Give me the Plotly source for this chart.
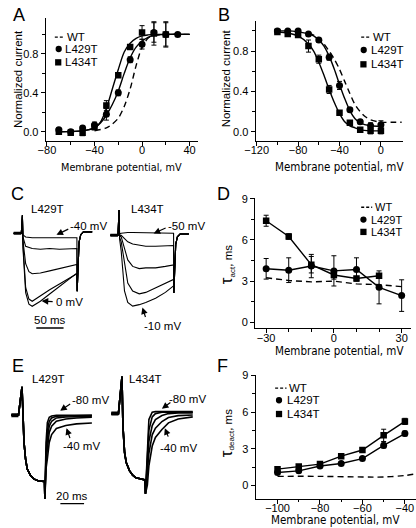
import plotly.graph_objects as go

W, H = 416, 528
TICKFONT = "Liberation Sans, Arial, sans-serif"
NARROW = "Liberation Sans Narrow, Arial Narrow, DejaVu Sans Condensed, Liberation Sans, Arial, sans-serif"

# ---------------- Panel A: activation ----------------
A_V = [-70, -60, -50, -40, -30, -20, -10, 0, 10, 20, 30]
A_L429T = [0.02, 0.00, 0.04, 0.07, 0.18, 0.40, 0.74, 0.90, 1.02, 1.00, 1.00]
A_L429T_ERR = [0.02, 0.02, 0.02, 0.03, 0.06, 0.03, 0.03, 0.05, 0.10, 0.13, 0.02]
A_V434 = [-70, -60, -50, -40, -30, -20, -10, 0, 10, 20]
A_L434T = [0.00, -0.01, -0.01, 0.05, 0.27, 0.58, 0.87, 1.02, 1.01, 1.00]
A_L434T_ERR = [0.02, 0.02, 0.03, 0.03, 0.05, 0.02, 0.02, 0.07, 0.12, 0.12]
A_FIT_V = [-70, -50, -40, -35, -30, -25, -20, -15, -10, -5, 0, 5, 10, 20, 40]
A_FIT_L429T = [0.00, 0.01, 0.04, 0.09, 0.17, 0.28, 0.42, 0.60, 0.76, 0.87, 0.93, 0.97, 0.99, 1.00, 1.00]
A_FIT_L434T = [0.00, 0.01, 0.04, 0.10, 0.24, 0.44, 0.64, 0.82, 0.91, 0.96, 0.985, 0.995, 1.00, 1.00, 1.00]
A_WT_V = [-40, -30, -25, -20, -15, -10, -5, 0, 5, 10, 20, 40]
A_WT = [0.01, 0.04, 0.08, 0.14, 0.26, 0.44, 0.68, 0.87, 0.96, 0.99, 1.00, 1.00]

# ---------------- Panel B: inactivation ----------------
B_V = [-100, -90, -80, -70, -60, -50, -40, -30, -20, -10, 0]
B_L429T = [1.00, 1.00, 1.00, 0.97, 0.91, 0.74, 0.46, 0.22, 0.10, 0.06, 0.07]
B_L429T_ERR = [0.01, 0.01, 0.01, 0.01, 0.02, 0.03, 0.04, 0.02, 0.02, 0.03, 0.04]
B_L434T = [0.99, 0.97, 0.96, 0.85, 0.72, 0.42, 0.19, 0.09, 0.02, 0.01, 0.01]
B_L434T_ERR = [0.01, 0.02, 0.02, 0.06, 0.04, 0.04, 0.02, 0.02, 0.02, 0.03, 0.03]
B_FIT_V = [-100, -90, -80, -70, -65, -60, -55, -50, -45, -40, -35, -30, -25, -20, -10, 0]
B_FIT_L429T = [1.00, 1.00, 0.99, 0.97, 0.95, 0.91, 0.85, 0.75, 0.62, 0.47, 0.33, 0.21, 0.13, 0.09, 0.06, 0.055]
B_FIT_L434T = [0.99, 0.98, 0.95, 0.87, 0.80, 0.69, 0.56, 0.42, 0.29, 0.18, 0.10, 0.06, 0.04, 0.02, 0.01, 0.01]
B_WT_V = [-70, -60, -50, -45, -40, -35, -30, -25, -20, -15, -10, 0, 10, 20]
B_WT = [0.98, 0.93, 0.80, 0.72, 0.62, 0.50, 0.38, 0.27, 0.20, 0.15, 0.12, 0.095, 0.095, 0.095]

# ---------------- Panel C: current traces (ms, normalized current) ----------------
C_HOLD_T = [-16, -2]
C_SPIKE_T = [0]
C_SPIKE_I = [0.25]
C_T = [1, 6, 12, 18, 33, 50, 68, 86, 100]
C429 = {
    "-40": [-0.02, -0.05, -0.06, -0.06, -0.06, -0.06, -0.06, -0.06, -0.06],
    "-30": [-0.05, -0.18, -0.20, -0.21, -0.22, -0.21, -0.22, -0.21, -0.21],
    "-20": [-0.10, -0.42, -0.53, -0.56, -0.55, -0.52, -0.49, -0.46, -0.43],
    "-10": [-0.15, -0.75, -0.91, -0.94, -0.86, -0.78, -0.70, -0.62, -0.56],
    "0": [-0.20, -0.82, -0.98, -1.01, -0.94, -0.84, -0.74, -0.64, -0.55],
}
C434_T = [1, 4, 10, 16, 25, 37, 49, 67, 85, 100]
C434 = {
    "-50": [0.02, 0.03, 0.04, 0.04, 0.04, 0.04, 0.03, 0.04, 0.04, 0.03],
    "-40": [0.00, 0.00, -0.05, -0.09, -0.12, -0.14, -0.15, -0.15, -0.15, -0.14],
    "-30": [-0.01, -0.02, -0.18, -0.34, -0.43, -0.46, -0.45, -0.45, -0.43, -0.41],
    "-20": [-0.03, -0.09, -0.41, -0.66, -0.77, -0.81, -0.79, -0.73, -0.67, -0.61],
    "-10": [-0.05, -0.22, -0.77, -0.93, -0.98, -0.96, -0.93, -0.87, -0.79, -0.70],
}
C_TAIL_DT = [0.5, 2, 4, 7, 12, 20, 28]
C_TAIL_I = [-0.80, -0.35, -0.12, -0.02, 0.02, 0.02, 0.02]
C_SCALE_MS = 50

# ---------------- Panel D: activation time constants ----------------
D_V = [-30, -20, -10, 0, 10, 20, 30]
D_L429T = [3.9, 3.8, 4.1, 3.75, 3.85, 2.55, 1.95]
D_L429T_ERR = [0.75, 0.9, 0.85, 1.1, 0.85, 1.2, 1.15]
D_V434 = [-30, -20, -10, 0, 10, 20]
D_L434T = [7.4, 6.25, 4.2, 3.45, 3.2, 3.4]
D_L434T_ERR = [0.4, 0.2, 0.6, 0.3, 0.15, 0.15]
D_WT = [3.25, 3.05, 2.95, 3.0, 2.8, 2.75, 2.6]

# ---------------- Panel E: tail currents ----------------
E_HOLD_T = [-9, -3]
E429_ACT_T = [0, 0.55, 1.7, 3.0, 4.4, 7.2, 9.9, 14, 19]
E429_ACT_I = [0.43, 0.08, -0.41, -0.66, -0.81, -0.91, -0.96, -0.99, -1.0]
E429_TAIL_T = [19.3, 20.3, 21.4, 23, 25, 29, 37, 46, 59]
E429_TAIL = {
    "-80": [-1.26, -0.41, -0.11, -0.03, -0.01, 0.0, 0.0, 0.0, 0.0],
    "-70": [-1.26, -0.55, -0.24, -0.09, -0.04, -0.015, -0.01, -0.005, 0.0],
    "-60": [-1.26, -0.62, -0.36, -0.165, -0.09, -0.04, -0.025, -0.02, -0.015],
    "-50": [-1.26, -0.70, -0.51, -0.26, -0.165, -0.09, -0.055, -0.04, -0.03],
    "-40": [-1.26, -0.80, -0.66, -0.41, -0.29, -0.20, -0.155, -0.13, -0.115],
}
E434_ACT_T = [0, 0.8, 2.2, 3.6, 6.3, 9.0, 11.8, 17.3, 19.5]
E434_ACT_I = [0.56, -0.19, -0.59, -0.74, -0.86, -0.93, -0.97, -0.99, -1.0]
E434_TAIL_T = [19.8, 21.4, 22.7, 25.5, 28.2, 33.7, 39.2, 47.4, 59.7]
E434_TAIL = {
    "-80": [-1.21, -0.44, -0.09, 0.02, 0.03, 0.03, 0.03, 0.03, 0.03],
    "-70": [-1.21, -0.60, -0.25, -0.05, 0.00, 0.02, 0.02, 0.02, 0.02],
    "-60": [-1.21, -0.75, -0.42, -0.18, -0.09, -0.03, 0.00, 0.01, 0.01],
    "-50": [-1.21, -0.90, -0.60, -0.32, -0.22, -0.12, -0.06, -0.03, -0.02],
    "-40": [-1.21, -1.08, -0.79, -0.49, -0.36, -0.24, -0.14, -0.08, -0.05],
}
E_SCALE_MS = 20

# ---------------- Panel F: deactivation time constants ----------------
F_V = [-100, -90, -80, -70, -60, -50, -40]
F_L429T = [1.07, 1.2, 1.6, 1.8, 2.2, 3.28, 4.25]
F_L429T_ERR = [0.1, 0.1, 0.1, 0.1, 0.1, 0.2, 0.2]
F_L434T = [1.34, 1.56, 1.75, 2.4, 2.9, 4.1, 5.24]
F_L434T_ERR = [0.1, 0.1, 0.1, 0.1, 0.15, 0.5, 0.25]
F_WT_V = [-100, -80, -60, -50, -40, -35]
F_WT = [0.75, 0.75, 0.7, 0.7, 0.82, 0.95]

# =================================================================
def fx(x):
    return x / W


def fy(y):
    return 1 - y / H


def dom_x(a, b):
    return [a / W, b / W]


def dom_y(top, bottom):
    return [1 - bottom / H, 1 - top / H]


fig = go.Figure()
BLK = "black"
DASH = "6px,4px"


def line(ax, x, y, dash=None, width=1.4):
    xa, ya = ax
    fig.add_trace(go.Scatter(x=x, y=y, mode="lines", xaxis=xa, yaxis=ya,
                             line=dict(color=BLK, width=width, dash=dash, shape="spline", smoothing=0.8),
                             hoverinfo="skip"))


def pts(ax, x, y, err, symbol, connect=False):
    xa, ya = ax
    fig.add_trace(go.Scatter(x=x, y=y, mode="lines+markers" if connect else "markers",
                             xaxis=xa, yaxis=ya,
                             line=dict(color=BLK, width=1.4),
                             marker=dict(symbol=symbol, size=7 if symbol == "circle" else 6.5, color=BLK),
                             error_y=dict(type="data", array=err, color=BLK, thickness=1, width=2.5),
                             hoverinfo="skip"))


def raw(ax, x, y, width=1.1):
    xa, ya = ax
    fig.add_trace(go.Scatter(x=x, y=y, mode="lines", xaxis=xa, yaxis=ya,
                             line=dict(color=BLK, width=width), hoverinfo="skip"))


# Panel A
AX_A = ("x", "y")
line(AX_A, A_WT_V, A_WT, dash=DASH)
line(AX_A, A_FIT_V, A_FIT_L429T)
line(AX_A, A_FIT_V, A_FIT_L434T)
pts(AX_A, A_V, A_L429T, A_L429T_ERR, "circle")
pts(AX_A, A_V434, A_L434T, A_L434T_ERR, "square")

# Panel B
AX_B = ("x2", "y2")
line(AX_B, B_WT_V, B_WT, dash=DASH)
line(AX_B, B_FIT_V, B_FIT_L429T)
line(AX_B, B_FIT_V, B_FIT_L434T)
pts(AX_B, B_V, B_L429T, B_L429T_ERR, "circle")
pts(AX_B, B_V, B_L434T, B_L434T_ERR, "square")

# Panel C traces
AX_C1 = ("x3", "y3")
AX_C2 = ("x4", "y4")
for key, vals in C429.items():
    t = C_HOLD_T + C_SPIKE_T + C_T + [C_T[-1] + d for d in C_TAIL_DT]
    i = [0, 0] + C_SPIKE_I + vals + C_TAIL_I
    raw(AX_C1, t, i)
raw(AX_C1, C_HOLD_T, [0, 0], width=3)
for key, vals in C434.items():
    t = C_HOLD_T + C_SPIKE_T + C434_T + [C434_T[-1] + d for d in C_TAIL_DT]
    i = [0, 0] + [0.35] + vals + C_TAIL_I
    raw(AX_C2, t, i)
raw(AX_C2, C_HOLD_T, [0, 0], width=3)

# Panel D
AX_D = ("x5", "y5")
fig.add_trace(go.Scatter(x=D_V, y=D_WT, mode="lines", xaxis="x5", yaxis="y5",
                         line=dict(color=BLK, width=1.4, dash=DASH), hoverinfo="skip"))
pts(AX_D, D_V, D_L429T, D_L429T_ERR, "circle", connect=True)
pts(AX_D, D_V434, D_L434T, D_L434T_ERR, "square", connect=True)

# Panel E traces
AX_E1 = ("x6", "y6")
AX_E2 = ("x7", "y7")
for key, vals in E429_TAIL.items():
    raw(AX_E1, E_HOLD_T + E429_ACT_T + E429_TAIL_T, [0, 0] + E429_ACT_I + vals, width=1.6)
raw(AX_E1, E_HOLD_T, [0, 0], width=4)
for key, vals in E434_TAIL.items():
    raw(AX_E2, E_HOLD_T + E434_ACT_T + E434_TAIL_T, [0, 0] + E434_ACT_I + vals, width=1.6)
raw(AX_E2, E_HOLD_T, [0, 0], width=4)

# Panel F
AX_F = ("x8", "y8")
fig.add_trace(go.Scatter(x=F_WT_V, y=F_WT, mode="lines", xaxis="x8", yaxis="y8",
                         line=dict(color=BLK, width=1.4, dash=DASH, shape="spline"), hoverinfo="skip"))
pts(AX_F, F_V, F_L429T, F_L429T_ERR, "circle", connect=True)
pts(AX_F, F_V, F_L434T, F_L434T_ERR, "square", connect=True)


# ---------------- axes ----------------
def vis_axis(dom, rng, tickvals, minorvals, fmt=None, standoff=0):
    d = dict(domain=dom, range=rng, showline=True, linecolor=BLK, linewidth=1.2,
             ticks="outside", ticklen=4, tickwidth=1.1, tickcolor=BLK,
             tickmode="array", tickvals=tickvals, showgrid=False, zeroline=False,
             tickfont=dict(family=TICKFONT, size=11, color=BLK),
             minor=dict(tickmode="array", tickvals=minorvals, ticks="outside", ticklen=2.5,
                        tickwidth=1, tickcolor=BLK, showgrid=False),
             ticklabelstandoff=standoff,
             fixedrange=True)
    if fmt:
        d["tickformat"] = fmt
    return d


def hid_axis(dom, rng):
    return dict(domain=dom, range=rng, visible=False, fixedrange=True)


layout = dict(
    width=W, height=H, margin=dict(l=0, r=0, t=0, b=0),
    paper_bgcolor="white", plot_bgcolor="rgba(0,0,0,0)", showlegend=False,
    font=dict(family=TICKFONT, size=11, color=BLK),
)
XS = -5
# A
layout["xaxis"] = vis_axis(dom_x(35.7, 192), [-81, 47], [-80, -40, 0, 40], [-60, -20, 20], standoff=XS)
layout["yaxis"] = vis_axis(dom_y(12, 136.7), [-0.096, 1.17], [0, 0.4, 0.8], [0.2, 0.6, 1.0], fmt=".1f")
layout["xaxis"]["anchor"] = "y"
layout["yaxis"]["anchor"] = "x"
# B
layout["xaxis2"] = vis_axis(dom_x(251.3, 402.3), [-121, 21], [-120, -80, -40, 0], [-100, -60, -20], standoff=XS)
layout["yaxis2"] = vis_axis(dom_y(15, 136.7), [-0.092, 1.10], [0, 0.4, 0.8], [0.2, 0.6, 1.0], fmt=".1f")
layout["xaxis2"]["anchor"] = "y2"
layout["yaxis2"]["anchor"] = "x2"
# C (hidden)
layout["xaxis3"] = hid_axis(dom_x(0, 100), [-20.9, 157.7]); layout["xaxis3"]["anchor"] = "y3"
layout["yaxis3"] = hid_axis(dom_y(205, 335), [-1.438, 0.342]); layout["yaxis3"]["anchor"] = "x3"
layout["xaxis4"] = hid_axis(dom_x(100, 208), [-19.6, 173.2]); layout["xaxis4"]["anchor"] = "y4"
layout["yaxis4"] = hid_axis(dom_y(205, 335), [-1.411, 0.37]); layout["yaxis4"]["anchor"] = "x4"
# D
layout["xaxis5"] = vis_axis(dom_x(250.7, 411), [-34.9, 34.2], [-30, 0, 30], [-20, -10, 10, 20], standoff=XS)
layout["yaxis5"] = vis_axis(dom_y(194, 326), [-0.43, 9.07], [0, 3, 6, 9], [1.5, 4.5, 7.5])
layout["xaxis5"]["anchor"] = "y5"
layout["yaxis5"]["anchor"] = "x5"
# E (hidden)
layout["xaxis6"] = hid_axis(dom_x(0, 100), [-9.29, 72.9]); layout["xaxis6"]["anchor"] = "y6"
layout["yaxis6"] = hid_axis(dom_y(370, 510), [-1.433, 0.657]); layout["yaxis6"]["anchor"] = "x6"
layout["xaxis7"] = hid_axis(dom_x(100, 208), [-11.5, 77.2]); layout["xaxis7"]["anchor"] = "y7"
layout["yaxis7"] = hid_axis(dom_y(370, 510), [-1.458, 0.631]); layout["yaxis7"]["anchor"] = "x7"
# F
layout["xaxis8"] = vis_axis(dom_x(251.3, 415.5), [-110.3, -35.0], [-100, -80, -60, -40], [-90, -70, -50], standoff=XS)
layout["yaxis8"] = vis_axis(dom_y(373, 498.3), [-1.07, 9.05], [0, 3, 6, 9], [1.5, 4.5, 7.5])
layout["xaxis8"]["anchor"] = "y8"
layout["yaxis8"]["anchor"] = "x8"

fig.update_layout(**layout)

ann = []
shapes = []


def text(x, y, s, size=11.5, family=TICKFONT, xanchor="center", angle=0):
    ann.append(dict(x=fx(x), y=fy(y), xref="paper", yref="paper", text=s, showarrow=False,
                    xanchor=xanchor, yanchor="middle", textangle=angle,
                    font=dict(family=family, size=size, color=BLK)))


def arrow(tail, tip):
    ann.append(dict(x=fx(tip[0]), y=fy(tip[1]), xref="paper", yref="paper", text="",
                    showarrow=True, ax=tail[0] - tip[0], ay=tail[1] - tip[1],
                    arrowhead=2, arrowsize=1.1, arrowwidth=1.2, arrowcolor=BLK))


# panel letters
for lab, (x, y) in {"A": (8, 9), "B": (219, 9), "C": (7, 190), "D": (218, 190),
                    "E": (7, 364), "F": (217, 364)}.items():
    text(x, y, lab, size=18)

# axis titles
text(7, 74, "Normalized current", size=11.5, angle=-90)
text(114, 163, "Membrane potential, mV", size=10.8, family=NARROW)
text(221, 73, "Normalized current", size=11.5, angle=-90)
text(337, 163, "Membrane potential, mV", size=11.5, family=NARROW)
text(221, 262, "<span style='font-size:17px'>τ</span><sub>act</sub>, ms", size=11.5, angle=-90)
text(337, 349, "Membrane potential, mV", size=11.5, family=NARROW)
text(221, 432, "<span style='font-size:17px'>τ</span><sub>deact</sub>, ms", size=11.5, angle=-90)
text(333, 520, "Membrane potential, mV", size=11.5, family=NARROW)


# legends
def legend(dash_x, dash_y, rows, text_x, size=11.5):
    shapes.append(dict(type="line", xref="paper", yref="paper", x0=fx(dash_x[0]), x1=fx(dash_x[1]),
                       y0=fy(dash_y), y1=fy(dash_y), line=dict(color=BLK, width=1.4, dash="3px,2px")))
    text(dash_x[1] + 0.5, dash_y, "WT", size=size, xanchor="left")
    for sym, cx, cy, label in rows:
        r = 3.2
        shapes.append(dict(type="circle" if sym == "circle" else "rect", xref="paper", yref="paper",
                           x0=fx(cx - r), x1=fx(cx + r), y0=fy(cy + r), y1=fy(cy - r),
                           fillcolor=BLK, line=dict(color=BLK, width=0)))
        text(text_x, cy, label, size=size, xanchor="left")


legend((45, 55), 31.5, [("circle", 49, 43.5, "L429T"), ("square", 48.5, 57, "L434T")], 53.5)
legend((359.7, 369.5), 31.5, [("circle", 362.3, 44.5, "L429T"), ("square", 362, 59, "L434T")], 368)
legend((359.7, 371), 203.5, [("circle", 362, 216, "L429T"), ("square", 362, 228.5, "L434T")], 367.5, size=11)
legend((271.3, 283), 386.5, [("circle", 275.3, 398.8, "L429T"), ("square", 275.3, 412.7, "L434T")], 281.5)

# trace labels C
text(38, 205, "L429T", size=11.5)
text(140, 205, "L434T", size=11.5)
text(80, 223, "-40 mV", size=11.5)
arrow((60, 225), (46.7, 231.5))
text(60, 299, "0 mV", size=11.5)
arrow((44, 299), (31.5, 298.5))
text(180, 223, "-50 mV", size=11.5)
arrow((160, 224), (146.5, 230))
text(156, 323.5, "-10 mV", size=11.5)
arrow((138.5, 316), (135, 305))
# scale bar C
shapes.append(dict(type="line", xref="x3", yref="y3", x0=25.5, x1=25.5 + C_SCALE_MS, y0=-1.31, y1=-1.31,
                   line=dict(color=BLK, width=1.4)))
text(40, 317.5, "50 ms", size=11.5)

# trace labels E
text(39, 377, "L429T", size=11.5)
text(138, 377, "L434T", size=11.5)
text(82, 398.3, "-80 mV", size=11.5)
arrow((62, 401.5), (50.5, 409.5))
text(72, 445, "-40 mV", size=11.5)
arrow((61, 438.5), (57, 427))
text(181, 397.3, "-80 mV", size=11.5)
arrow((165, 400), (155, 407.5))
text(172, 446.7, "-40 mV", size=11.5)
arrow((162, 437), (158, 427))
shapes.append(dict(type="line", xref="x6", yref="y6", x0=32.4, x1=32.4 + E_SCALE_MS, y0=-1.333, y1=-1.333,
                   line=dict(color=BLK, width=1.4)))
text(63, 496, "20 ms", size=11.5)

fig.update_layout(annotations=ann, shapes=shapes)
fig.write_html("out.html", config={"displayModeBar": False},
               post_script="document.body.style.margin='0';document.body.style.padding='0';")
